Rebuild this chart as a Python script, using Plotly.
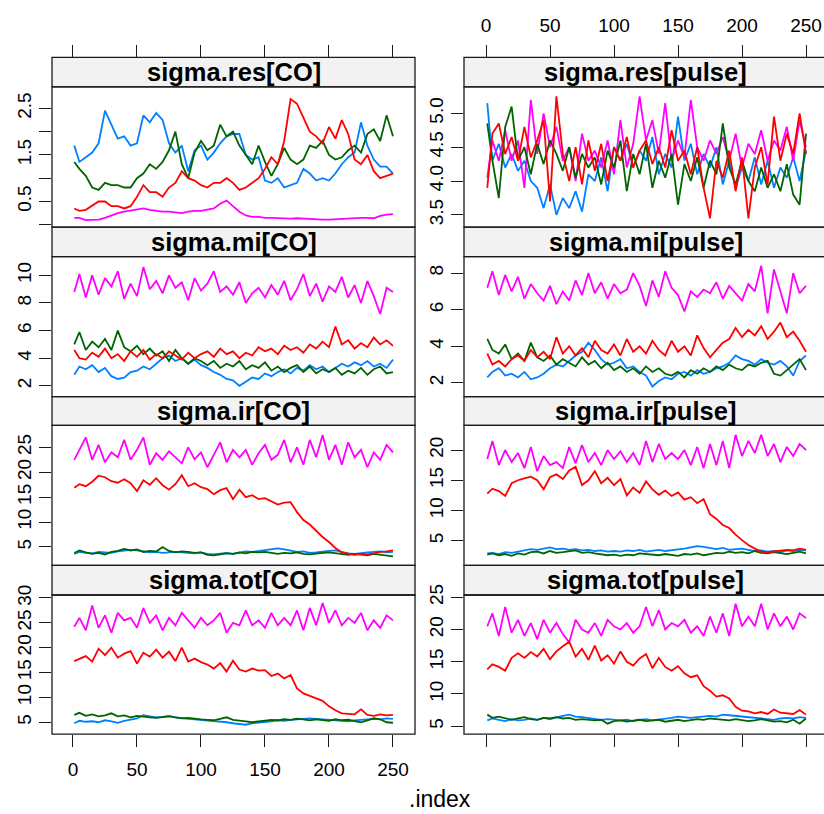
import plotly.graph_objects as go

# MCMC iteration index (thinned to every 5th draw)
iteration = [1] + list(range(5, 251, 5))

# sigma.res[CO]
res_co_c1 = [1.70, 1.35, 1.45, 1.55, 1.75, 2.45, 2.15, 1.85, 1.90, 1.70,
             1.75, 2.35, 2.20, 2.40, 2.25, 1.75, 1.55, 1.70, 1.15, 1.60,
             1.70, 1.40, 1.55, 1.75, 1.90, 1.95, 1.95, 1.50, 1.40, 1.45,
             0.95, 0.90, 1.00, 0.80, 0.85, 0.90, 1.20, 1.10, 0.95, 1.00,
             0.95, 1.10, 1.30, 1.45, 1.55, 2.20, 1.70, 1.40, 1.25, 1.25,
             1.10]
res_co_c2 = [0.15, 0.15, 0.10, 0.10, 0.11, 0.15, 0.20, 0.25, 0.28, 0.30,
             0.32, 0.35, 0.32, 0.30, 0.28, 0.28, 0.27, 0.25, 0.28, 0.30,
             0.30, 0.32, 0.35, 0.45, 0.52, 0.40, 0.28, 0.20, 0.17, 0.17,
             0.15, 0.15, 0.14, 0.13, 0.13, 0.14, 0.13, 0.12, 0.12, 0.11,
             0.11, 0.12, 0.13, 0.13, 0.14, 0.15, 0.15, 0.14, 0.19, 0.22,
             0.23]
res_co_c3 = [1.35, 1.20, 1.05, 0.80, 0.75, 0.90, 0.85, 0.85, 0.80, 0.80,
             1.00, 1.10, 1.30, 1.20, 1.35, 1.60, 2.00, 1.30, 1.00, 1.55,
             1.80, 1.60, 1.70, 2.15, 1.90, 2.00, 1.70, 1.50, 1.30, 1.70,
             1.35, 1.05, 1.30, 1.65, 1.40, 1.30, 1.40, 1.70, 1.65, 1.80,
             1.50, 1.40, 1.45, 1.60, 1.70, 1.55, 1.95, 2.05, 1.80, 2.35,
             1.90]
res_co_c4 = [0.35, 0.30, 0.32, 0.42, 0.50, 0.50, 0.40, 0.40, 0.35, 0.40,
             0.60, 0.85, 0.70, 0.70, 0.60, 0.80, 0.90, 1.15, 1.00, 0.95,
             0.85, 0.80, 0.90, 0.90, 1.00, 0.90, 0.75, 0.80, 0.90, 1.00,
             1.20, 1.45, 1.30, 1.80, 2.70, 2.60, 2.30, 2.00, 1.90, 1.75,
             2.10, 1.85, 2.25, 1.95, 1.40, 1.30, 1.50, 1.15, 1.00, 1.05,
             1.10]

# sigma.res[pulse]
res_pulse_c1 = [5.15, 4.30, 4.55, 4.20, 4.40, 4.15, 4.30, 4.00, 3.90, 3.60,
                3.95, 3.50, 3.75, 3.60, 3.85, 3.55, 4.10, 4.00, 4.35, 3.85,
                4.50, 4.30, 4.55, 4.20, 4.45, 4.30, 4.65, 4.10, 4.40, 4.20,
                4.95, 4.30, 4.55, 4.10, 4.40, 4.20, 4.50, 3.95, 4.30, 3.90,
                4.20, 4.00, 4.35, 3.95, 4.30, 3.90, 4.20, 4.05, 4.35, 4.00,
                4.45]
res_pulse_c2 = [4.05, 4.60, 4.30, 4.75, 4.30, 4.60, 3.90, 5.20, 4.40, 5.00,
                4.50, 4.80, 4.30, 4.50, 4.00, 4.70, 4.30, 4.45, 4.20, 4.60,
                4.10, 4.90, 4.20, 4.55, 5.25, 4.60, 4.90, 4.40, 5.15, 4.30,
                4.60, 4.35, 5.20, 4.50, 4.30, 4.60, 4.40, 4.65, 4.30, 4.70,
                4.20, 4.55, 4.40, 4.75, 4.30, 4.60, 4.45, 4.80, 4.30, 4.90,
                4.50]
res_pulse_c3 = [4.85, 4.30, 3.75, 4.80, 5.10, 4.30, 4.50, 4.10, 4.55, 4.25,
                4.60, 4.40, 4.15, 4.50, 4.05, 4.40, 4.20, 4.35, 3.95, 4.45,
                4.20, 4.60, 3.85, 4.40, 4.10, 4.55, 3.90, 4.30, 4.05, 4.40,
                3.65, 4.25, 4.00, 4.35, 3.90, 4.30, 4.10, 4.85, 4.20, 3.95,
                4.30, 4.00, 3.85, 4.20, 3.90, 4.10, 3.85, 4.25, 3.80, 3.65,
                4.70]
res_pulse_c4 = [3.90, 4.70, 4.85, 4.40, 4.65, 4.30, 4.80, 4.35, 4.60, 4.90,
                3.70, 5.25, 4.40, 4.00, 4.50, 3.95, 4.60, 4.15, 4.55, 4.00,
                4.50, 4.30, 4.65, 4.20, 4.45, 4.60, 4.25, 4.50, 4.20, 4.75,
                4.30, 4.45, 4.10, 4.50, 3.90, 3.45, 4.30, 4.05, 4.45, 3.85,
                4.35, 3.45, 4.20, 4.50, 3.95, 4.95, 4.30, 4.70, 4.40, 5.00,
                4.40]

# sigma.mi[CO]
mi_co_c1 = [2.8, 3.4, 3.2, 3.5, 3.0, 3.3, 2.7, 2.5, 2.6, 3.0,
            3.1, 3.4, 3.2, 3.6, 4.0, 4.2, 3.8, 4.0, 3.6, 3.9,
            3.5, 3.3, 3.0, 2.8, 2.5, 2.4, 2.0, 2.3, 2.6, 2.5,
            2.9, 2.7, 3.0, 3.2, 2.9, 3.3, 3.1, 3.5, 3.2, 3.4,
            3.0, 3.3, 3.6, 3.4, 3.7, 3.5, 3.8, 3.4, 3.6, 3.3,
            3.9]
mi_co_c2 = [8.8, 10.1, 8.4, 10.0, 8.6, 9.8, 9.2, 10.3, 8.3, 9.4,
            8.5, 10.6, 9.0, 9.6, 8.7, 10.0, 9.1, 9.5, 8.2, 9.8,
            8.9, 9.4, 10.3, 8.8, 9.2, 8.6, 9.5, 8.0, 8.7, 9.1,
            8.4, 9.3, 8.6, 9.6, 8.2, 9.0, 10.1, 8.5, 9.4, 8.1,
            9.2, 8.8, 9.9, 8.4, 9.3, 8.0, 9.6, 8.5, 7.2, 9.1,
            8.8]
mi_co_c3 = [5.0, 5.9, 4.6, 5.2, 4.8, 5.4, 4.6, 6.0, 4.8, 4.5,
            4.9, 4.3, 4.7, 4.2, 4.5, 3.8, 4.6, 4.0, 3.6, 4.0,
            3.8, 3.5, 3.8, 3.3, 3.6, 3.4, 3.8, 3.2, 3.5, 3.3,
            3.7, 3.1, 3.4, 3.0, 3.3, 3.5, 3.0, 3.4, 2.9, 3.2,
            3.0, 3.3, 2.8, 3.1, 2.9, 3.3, 2.8, 3.2, 3.4, 2.9,
            3.0]
mi_co_c4 = [4.6, 4.0, 3.9, 4.4, 4.1, 4.7, 4.0, 4.3, 3.8, 4.5,
            4.1, 4.6, 3.9, 4.3, 4.0, 4.5, 4.2, 3.9, 4.4, 4.0,
            4.3, 4.5, 4.1, 4.7, 4.3, 4.5, 4.0, 4.4, 4.2, 4.8,
            4.5, 4.7, 4.3, 4.9, 4.6, 4.8, 4.4, 5.0, 4.7, 5.2,
            4.8, 6.3, 5.0, 5.3, 4.7, 5.1, 4.8, 5.5, 5.0, 5.3,
            4.9]

# sigma.mi[pulse]
mi_pulse_c1 = [2.3, 2.6, 2.8, 2.4, 2.5, 2.3, 2.6, 2.2, 2.3, 2.5,
               2.8, 3.0, 2.9, 3.2, 3.5, 3.7, 4.2, 3.8, 3.3, 3.0,
               3.1, 3.3, 2.8, 2.9, 2.6, 2.4, 1.8, 2.1, 2.3, 2.2,
               2.5, 2.6, 2.4, 2.7, 2.5, 2.6, 2.8, 2.9, 3.1, 3.5,
               3.3, 3.2, 3.0, 3.3, 3.1, 3.0, 3.2, 2.9, 2.4, 3.2,
               3.5]
mi_pulse_c2 = [7.2, 8.1, 6.8, 7.9, 7.0, 7.8, 6.6, 7.4, 6.9, 6.5,
               7.3, 6.3, 7.0, 6.5, 7.6, 6.8, 8.0, 6.9, 7.5, 6.6,
               7.4, 6.9, 7.1, 8.0, 7.3, 6.2, 7.6, 6.7, 8.1, 7.2,
               6.8, 5.9, 7.0, 6.7, 7.1, 6.9, 7.5, 6.6, 7.3, 6.9,
               6.5, 7.4, 7.0, 8.4, 5.8, 8.2, 7.0, 5.8, 8.0, 6.9,
               7.3]
mi_pulse_c3 = [4.4, 3.8, 3.6, 4.1, 3.3, 3.6, 3.2, 4.2, 3.4, 3.2,
               3.5, 3.0, 3.3, 3.1, 2.9, 3.4, 3.0, 3.2, 2.8, 3.1,
               2.7, 2.9, 2.6, 2.8, 2.5, 2.9, 2.6, 2.8, 2.5, 2.4,
               2.6, 2.3, 2.7, 2.5, 2.8, 2.6, 2.9, 2.7, 3.0, 2.8,
               2.7, 3.0, 2.9, 3.1, 3.2, 2.5, 2.4, 2.7, 3.0, 3.3,
               2.7]
mi_pulse_c4 = [3.6, 3.0, 3.2, 2.9, 3.3, 3.5, 3.2, 3.8, 3.4, 3.7,
               3.3, 4.5, 3.6, 4.0, 3.5, 3.9, 3.4, 4.3, 3.8, 3.6,
               4.1, 3.5, 4.4, 3.7, 4.0, 3.6, 4.3, 3.8, 3.5, 4.3,
               3.7, 4.0, 3.5, 4.6, 3.9, 3.4, 3.8, 4.2, 4.4, 5.0,
               4.5, 4.9, 4.6, 5.1, 4.4, 4.8, 5.3, 4.5, 4.8, 4.3,
               3.7]

# sigma.ir[CO]
ir_co_c1 = [3.6, 4.0, 3.8, 3.7, 4.0, 3.9, 3.8, 4.1, 4.2, 4.4,
            4.3, 4.1, 3.9, 4.0, 3.8, 3.9, 4.0, 3.9, 3.8, 3.7,
            3.9, 3.6, 3.5, 3.7, 3.8, 3.6, 3.9, 4.1, 4.0, 4.2,
            4.4, 4.6, 4.7, 4.5, 4.3, 4.0, 4.1, 3.8, 3.9, 4.1,
            4.2, 4.3, 4.0, 3.7, 3.6, 3.8, 3.9, 4.0, 4.1, 3.9,
            4.0]
ir_co_c2 = [22.5, 24.5, 27.0, 22.5, 25.5, 22.0, 24.0, 23.0, 26.5, 22.5,
            24.5, 27.0, 21.5, 23.8, 22.5, 24.2, 23.0, 21.8, 25.0, 22.6,
            24.0, 21.0, 23.5, 26.0, 22.0, 24.5, 23.0, 24.5, 21.5, 23.8,
            25.5, 22.5, 23.5, 26.5, 22.0, 25.0, 21.5, 26.5, 23.0, 27.5,
            22.5, 25.5, 21.5, 26.0, 23.0, 24.5, 21.0, 24.0, 22.5, 25.5,
            24.0]
ir_co_c3 = [3.8, 4.3, 3.9, 3.6, 3.8, 3.5, 4.0, 4.2, 4.6, 4.3,
            4.5, 4.0, 4.2, 4.1, 5.0, 4.2, 3.9, 4.1, 4.0, 3.8,
            3.9, 3.4, 3.3, 3.5, 3.7, 3.6, 3.9, 3.7, 4.0, 3.9,
            4.0, 3.8, 3.6, 3.8, 3.7, 3.9, 3.6, 3.5, 3.7, 3.8,
            3.9, 3.7, 3.5, 3.4, 3.6, 3.5, 3.3, 3.6, 3.4, 3.2,
            3.1]
ir_co_c4 = [16.9, 17.6, 17.2, 18.1, 19.3, 19.0, 18.2, 17.9, 18.6, 17.8,
            16.2, 18.4, 17.5, 18.8, 17.4, 16.5, 17.6, 19.4, 17.2, 17.8,
            17.0, 16.6, 15.6, 16.4, 16.8, 14.6, 16.5, 15.0, 15.4, 14.6,
            14.8, 14.2, 13.5, 13.9, 14.0, 12.0, 10.4, 9.5, 8.2, 7.0,
            6.0, 4.8, 3.9, 3.6, 3.4, 3.6, 3.5, 3.7, 4.0, 4.1,
            4.3]

# sigma.ir[pulse]
ir_pulse_c1 = [2.9, 3.0, 2.8, 3.1, 3.0, 3.2, 3.4, 3.6, 3.5, 3.7,
               3.9, 3.6, 3.7, 3.5, 3.6, 3.4, 3.5, 3.3, 3.4, 3.2,
               3.3, 3.2, 3.4, 3.3, 3.5, 3.2, 3.4, 3.5, 3.3, 3.4,
               3.6, 3.7, 3.9, 4.1, 4.0, 3.8, 3.6, 3.8, 3.5, 3.6,
               3.7, 3.5, 3.3, 3.4, 3.2, 3.3, 3.1, 3.4, 3.3, 3.5,
               3.4]
ir_pulse_c2 = [18.5, 21.5, 17.5, 20.0, 18.0, 19.5, 17.0, 20.5, 16.5, 19.0,
               17.5, 18.0, 17.0, 20.5, 17.8, 20.8, 18.0, 19.5, 17.5, 20.0,
               18.5, 19.8, 18.0, 19.5, 17.5, 21.5, 18.0, 21.0, 18.5, 19.5,
               18.5, 20.0, 17.5, 20.5, 17.0, 21.0, 17.5, 21.5, 17.0, 22.5,
               19.0, 21.5, 19.5, 22.5, 19.0, 21.0, 18.0, 20.5, 19.0, 21.0,
               20.0]
ir_pulse_c3 = [2.7, 2.9, 2.6, 2.8, 2.5, 2.9, 2.7, 3.1, 3.2, 2.9,
               3.3, 3.0, 3.1, 3.3, 3.4, 3.0, 3.1, 2.9, 2.8, 2.6,
               2.7, 2.5, 2.7, 2.6, 2.9, 2.8, 2.7, 2.6, 2.8, 2.7,
               2.5, 2.8, 2.7, 2.9, 2.6, 2.8, 3.0, 2.9, 3.2, 3.0,
               3.1, 2.9, 3.3, 3.0, 2.9, 3.1, 3.0, 2.8, 3.0, 3.2,
               2.9]
ir_pulse_c4 = [12.8, 13.6, 13.2, 12.4, 14.5, 15.0, 15.3, 15.6, 15.0, 13.5,
               15.5, 16.0, 15.2, 16.6, 17.2, 14.2, 15.0, 16.5, 14.5, 15.4,
               14.2, 15.2, 12.5, 13.8, 12.9, 14.8, 13.5, 12.6, 13.3, 12.4,
               13.0, 11.8, 12.2, 11.2, 11.9, 9.4, 8.6, 7.6, 7.1, 6.0,
               5.1, 4.3, 3.7, 3.2, 3.1, 3.2, 3.3, 3.5, 3.4, 3.7,
               3.5]

# sigma.tot[CO]
tot_co_c1 = [4.8, 5.3, 5.1, 5.2, 5.0, 5.4, 5.2, 4.9, 5.3, 5.6,
             5.8, 6.4, 6.2, 6.0, 6.1, 6.3, 6.0, 5.8, 5.7, 5.6,
             5.5, 5.4, 5.3, 5.2, 5.0, 4.8, 4.6, 4.5, 4.8, 4.9,
             5.0, 5.2, 5.4, 5.3, 5.5, 5.6, 5.7, 5.8, 5.7, 5.6,
             5.5, 5.4, 5.3, 5.2, 5.4, 5.5, 5.6, 5.7, 5.6, 5.8,
             5.7]
tot_co_c2 = [24.2, 26.0, 23.5, 28.5, 24.0, 26.5, 23.0, 27.0, 25.5, 26.0,
             24.0, 28.0, 25.0, 26.5, 23.5, 26.0, 24.5, 27.0, 25.5, 24.0,
             26.0, 24.5, 25.5, 27.0, 23.0, 25.0, 24.5, 27.5, 24.5, 25.5,
             24.0, 27.0, 24.5, 26.0, 24.5, 27.5, 23.5, 28.0, 24.5, 29.0,
             25.0, 27.5, 24.5, 26.0, 25.0, 27.0, 23.5, 25.5, 24.0, 26.5,
             25.5]
tot_co_c3 = [6.5, 6.9, 6.3, 6.6, 6.2, 6.4, 6.8, 6.2, 6.4, 6.0,
             6.3, 6.1, 6.0, 5.9, 6.1, 6.2, 6.0, 5.8, 5.9, 5.7,
             5.6, 5.5, 5.4, 5.7, 6.0, 5.5, 5.4, 5.2, 5.0, 5.2,
             5.3, 5.5, 5.4, 5.6, 5.5, 5.7, 5.6, 5.4, 5.6, 5.5,
             5.3, 5.6, 5.4, 5.5, 5.2, 5.0, 5.4, 5.8, 5.6, 5.0,
             4.9]
tot_co_c4 = [17.3, 17.8, 18.3, 17.2, 19.8, 18.5, 20.0, 18.0, 18.8, 19.3,
             16.8, 19.0, 18.2, 19.6, 18.0, 19.2, 17.3, 20.0, 17.2, 17.8,
             17.1, 16.6, 15.8, 16.9, 15.2, 17.4, 15.6, 15.2, 15.8, 15.4,
             15.5, 14.3, 14.8, 13.8, 14.5, 11.8, 10.8, 10.3, 9.8, 9.3,
             8.2, 7.4, 6.8, 6.7, 6.6, 7.6, 6.5, 6.3, 6.6, 6.4,
             6.5]

# sigma.tot[pulse]
tot_pulse_c1 = [5.9, 6.2, 6.0, 5.8, 6.1, 5.9, 6.0, 6.2, 6.0, 6.3,
                6.1, 6.4, 6.6, 6.8, 6.5, 6.4, 6.3, 6.2, 6.0, 6.1,
                6.0, 5.9, 6.0, 5.8, 6.0, 6.1, 5.9, 6.0, 6.2, 6.3,
                6.5, 6.4, 6.3, 6.4, 6.5, 6.6, 6.5, 6.8, 6.7, 6.6,
                6.5, 6.4, 6.3, 6.2, 6.1, 6.0, 6.2, 6.3, 6.2, 6.4,
                6.3]
tot_pulse_c2 = [20.5, 22.5, 19.0, 23.5, 19.5, 21.5, 19.0, 21.0, 18.5, 21.5,
                19.5, 21.0, 19.3, 18.0, 21.5, 20.0, 19.5, 21.0, 19.0, 21.5,
                20.5, 20.0, 21.0, 19.5, 20.5, 23.5, 20.5, 23.0, 20.0, 21.0,
                20.5, 21.5, 19.5, 20.5, 19.0, 22.0, 19.5, 22.5, 19.0, 24.0,
                20.5, 22.0, 20.5, 24.0, 20.0, 22.5, 20.5, 22.0, 20.0, 22.5,
                21.8]
tot_pulse_c3 = [6.8, 6.3, 6.5, 6.2, 6.0, 6.2, 6.4, 6.1, 6.0, 6.3,
                6.2, 6.4, 6.2, 6.3, 6.0, 6.1, 6.0, 5.9, 6.0, 5.4,
                5.8, 5.9, 5.7, 5.9, 6.0, 5.8, 5.9, 6.0, 5.7, 5.9,
                6.0, 5.8, 5.9, 6.1, 6.0, 6.2, 6.1, 6.0, 5.9, 6.1,
                6.0, 5.8, 5.9, 6.1, 5.9, 5.7, 5.8, 5.6, 6.0, 5.4,
                6.2]
tot_pulse_c4 = [13.8, 14.6, 14.2, 13.6, 15.6, 16.3, 15.6, 16.5, 15.8, 17.0,
                15.4, 16.6, 17.4, 18.1, 15.8, 17.0, 15.3, 17.5, 15.2, 16.0,
                14.7, 16.6, 15.0, 14.4, 15.5, 16.2, 14.0, 15.6, 14.2, 13.6,
                14.3, 13.2, 12.6, 12.9, 11.2, 10.5, 9.6, 9.8, 9.3, 8.0,
                7.4, 7.3, 7.0, 7.2, 6.9, 7.6, 7.1, 7.0, 6.9, 7.5,
                6.8]

x_ticks = [0, 50, 100, 150, 200, 250]
chain_colors = ["#0080ff", "#ff00ff", "#006400", "#ff0000"]

# panel title, chains, y range, y tick values, y tick labels
panels = [
    ("sigma.res[CO]", [res_co_c1, res_co_c2, res_co_c3, res_co_c4],
     [-0.049, 2.96], [0, 0.5, 1, 1.5, 2, 2.5], ["", "0.5", "", "1.5", "", "2.5"]),
    ("sigma.res[pulse]", [res_pulse_c1, res_pulse_c2, res_pulse_c3, res_pulse_c4],
     [3.321, 5.389], [3.5, 4, 4.5, 5], ["3.5", "4.0", "4.5", "5.0"]),
    ("sigma.mi[CO]", [mi_co_c1, mi_co_c2, mi_co_c3, mi_co_c4],
     [1.214, 11.357], [2, 4, 6, 8, 10], ["2", "4", "6", "8", "10"]),
    ("sigma.mi[pulse]", [mi_pulse_c1, mi_pulse_c2, mi_pulse_c3, mi_pulse_c4],
     [1.245, 8.9], [2, 4, 6, 8], ["2", "4", "6", "8"]),
    ("sigma.ir[CO]", [ir_co_c1, ir_co_c2, ir_co_c3, ir_co_c4],
     [1.30, 29.42], [5, 10, 15, 20, 25], ["5", "10", "15", "20", "25"]),
    ("sigma.ir[pulse]", [ir_pulse_c1, ir_pulse_c2, ir_pulse_c3, ir_pulse_c4],
     [0.92, 24.08], [5, 10, 15, 20], ["5", "10", "15", "20"]),
    ("sigma.tot[CO]", [tot_co_c1, tot_co_c2, tot_co_c3, tot_co_c4],
     [2.62, 30.6], [5, 10, 15, 20, 25, 30], ["5", "10", "15", "20", "25", "30"]),
    ("sigma.tot[pulse]", [tot_pulse_c1, tot_pulse_c2, tot_pulse_c3, tot_pulse_c4],
     [3.78, 25.35], [5, 10, 15, 20, 25], ["5", "10", "15", "20", "25"]),
]

for _, chains, *_rest in panels:
    for ch in chains:
        assert len(ch) == len(iteration), len(ch)

W, H = 824, 814


def fx(px):
    return px / W


def fy(py):
    return 1 - py / H


# pixel geometry of the lattice
col_px = [(52, 415), (464, 827)]
col_dom = [[fx(52), fx(415)], [fx(464), 1.0]]
col_xrange = [[-16.4, 267.2], [-17.2, (824 - 486) / 1.28]]
strip_top = [47, 219, 391, 562]
plot_top = [77, 249, 420, 592]
plot_bot = [219, 391, 562, 733]

FONT = "Liberation Sans, Arial, Helvetica, sans-serif"
tick_font = dict(family=FONT, size=19, color="black")
line_col = "#1a1a1a"

fig = go.Figure()
shapes = []
annotations = []
layout = {}

for p, (title, chains, yr, yt, ytxt) in enumerate(panels):
    row, col = divmod(p, 2)
    s = "" if p == 0 else str(p + 1)
    for color, vals in zip(chain_colors, chains):
        fig.add_trace(go.Scatter(
            x=iteration, y=vals, mode="lines",
            line=dict(color=color, width=1.8),
            xaxis="x" + s, yaxis="y" + s,
            showlegend=False, hoverinfo="skip"))

    layout["xaxis" + s] = dict(
        domain=col_dom[col], range=col_xrange[col], anchor="y" + s,
        visible=(row == 3), tickvals=x_ticks, ticks="outside", ticklen=12,
        tickwidth=1.2, tickcolor=line_col, showticklabels=(col == 0),
        showgrid=False, zeroline=False, showline=False, tickfont=tick_font,
        ticklabelstandoff=6)
    layout["yaxis" + s] = dict(
        domain=[fy(plot_bot[row]), fy(plot_top[row])], range=yr,
        anchor="x" + s, tickvals=yt, ticktext=ytxt, tickangle=-90,
        ticks="outside", ticklen=12, tickwidth=1.2, tickcolor=line_col,
        showgrid=False, zeroline=False, showline=False, tickfont=tick_font)

    x0, x1 = col_px[col]
    # strip
    shapes.append(dict(type="rect", xref="paper", yref="paper",
                       x0=fx(x0), x1=fx(x1), y0=fy(plot_top[row]), y1=fy(strip_top[row]),
                       fillcolor="#f2f2f2", line=dict(color=line_col, width=1.3),
                       layer="below"))
    # panel frame
    shapes.append(dict(type="rect", xref="paper", yref="paper",
                       x0=fx(x0), x1=fx(x1), y0=fy(plot_bot[row]), y1=fy(plot_top[row]),
                       fillcolor="rgba(0,0,0,0)", line=dict(color=line_col, width=1.3),
                       layer="above"))
    annotations.append(dict(
        text=title, xref="paper", yref="paper",
        x=fx((x0 + x1) / 2), y=fy((strip_top[row] + plot_top[row]) / 2),
        xanchor="center", yanchor="middle", showarrow=False,
        font=dict(family=FONT, size=25.5, color="black", weight="bold")))

# top tick axes sitting on the strips of the first row
for k, col in enumerate([0, 1]):
    ax = str(9 + k)
    base = "x" if col == 0 else "x2"
    layout["xaxis" + ax] = dict(
        overlaying=base, range=col_xrange[col], anchor="free",
        position=fy(strip_top[0]), side="top", tickvals=x_ticks,
        ticks="outside", ticklen=12, tickwidth=1.2, tickcolor=line_col,
        showticklabels=(col == 1), showgrid=False, zeroline=False,
        showline=False, tickfont=tick_font, ticklabelstandoff=6)
    fig.add_trace(go.Scatter(x=[None], y=[None], xaxis="x" + ax,
                             yaxis="y" if col == 0 else "y2",
                             showlegend=False, hoverinfo="skip"))

annotations.append(dict(
    text=".index", xref="paper", yref="paper", x=fx(439.5), y=fy(799),
    xanchor="center", yanchor="middle", showarrow=False,
    font=dict(family=FONT, size=23, color="black")))

fig.update_layout(
    width=W, height=H, margin=dict(l=0, r=0, t=0, b=0),
    paper_bgcolor="white", plot_bgcolor="rgba(0,0,0,0)",
    shapes=shapes, annotations=annotations, hovermode=False,
    **layout)

fig.write_html("out.html")
